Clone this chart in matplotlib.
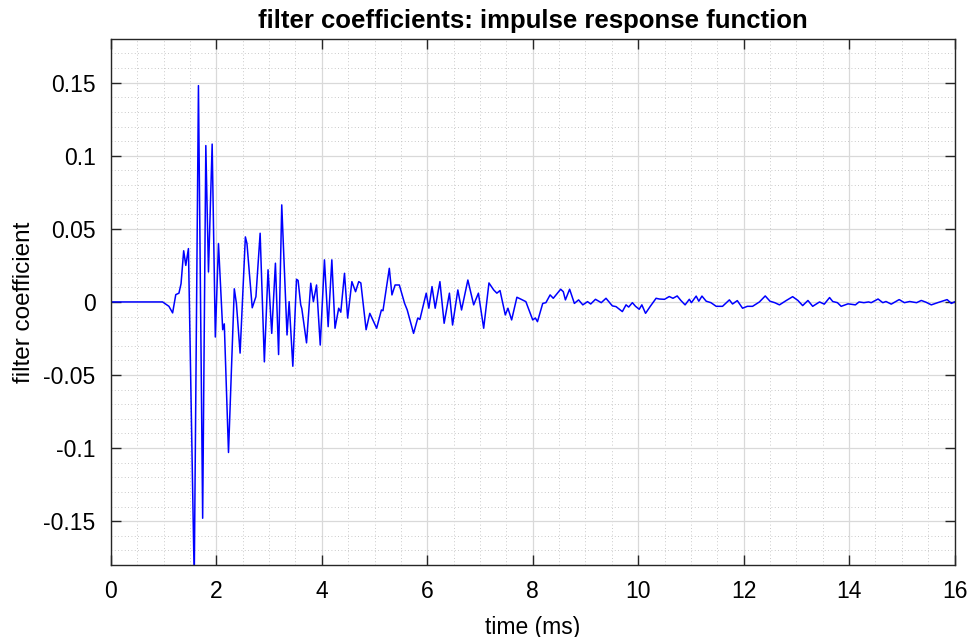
import matplotlib
matplotlib.use("Agg")
import matplotlib.pyplot as plt
from matplotlib.ticker import MultipleLocator, FuncFormatter

# time (ms) and filter coefficient values
time_ms = [0.0, 0.98, 1.10, 1.17, 1.23, 1.29, 1.33, 1.38, 1.42, 1.47, 1.58, 1.66, 1.74, 1.80, 1.85,
           1.92, 1.98, 2.04, 2.12, 2.15, 2.23, 2.34, 2.38, 2.45, 2.55, 2.58, 2.68, 2.75, 2.83, 2.91,
           2.98, 3.05, 3.12, 3.18, 3.24, 3.34, 3.38, 3.45, 3.52, 3.55, 3.60, 3.62, 3.71, 3.79, 3.84,
           3.90, 3.97, 4.05, 4.12, 4.19, 4.25, 4.32, 4.36, 4.43, 4.49, 4.57, 4.64, 4.70, 4.74, 4.84,
           4.91, 5.04, 5.13, 5.16, 5.28, 5.33, 5.39, 5.47, 5.57, 5.62, 5.74, 5.82, 5.86, 5.98, 6.03,
           6.09, 6.15, 6.24, 6.32, 6.42, 6.48, 6.58, 6.65, 6.77, 6.88, 6.97, 7.07, 7.17, 7.26, 7.32,
           7.38, 7.48, 7.53, 7.60, 7.70, 7.77, 7.87, 8.00, 8.05, 8.09, 8.19, 8.25, 8.33, 8.39, 8.53,
           8.58, 8.62, 8.70, 8.79, 8.87, 8.95, 9.04, 9.10, 9.19, 9.30, 9.39, 9.51, 9.58, 9.70, 9.77,
           9.82, 9.89, 9.95, 10.02, 10.07, 10.14, 10.23, 10.34, 10.40, 10.50, 10.59, 10.66, 10.74, 10.81, 10.89,
           10.97, 11.01, 11.10, 11.15, 11.21, 11.29, 11.38, 11.48, 11.60, 11.73, 11.79, 11.88, 11.98, 12.07, 12.17,
           12.30, 12.41, 12.50, 12.59, 12.68, 12.81, 12.93, 13.03, 13.12, 13.22, 13.31, 13.44, 13.53, 13.63, 13.69,
           13.78, 13.85, 13.98, 14.12, 14.19, 14.28, 14.37, 14.42, 14.55, 14.64, 14.70, 14.80, 14.95, 15.05, 15.15,
           15.28, 15.37, 15.46, 15.56, 15.68, 15.86, 15.94, 16.0]

coeff = [0.0, 0.0, -0.003, -0.0075, 0.005, 0.006, 0.0125, 0.035, 0.025, 0.0365, -0.19, 0.148, -0.148, 0.107, 0.0205,
         0.108, -0.024, 0.040, -0.019, -0.015, -0.103, 0.009, -0.001, -0.035, 0.0445, 0.040, -0.004, 0.0036, 0.047, -0.041,
         0.022, -0.0215, 0.0265, -0.036, 0.0664, -0.0226, 0.0002, -0.044, 0.0155, 0.0147, -0.002, -0.0045, -0.028, 0.0128, 0.0002,
         0.0116, -0.0295, 0.0288, -0.0169, 0.0288, -0.018, -0.0043, -0.007, 0.0196, -0.011, 0.0139, 0.007, 0.0139, 0.013, -0.019,
         -0.0078, -0.018, -0.0055, -0.006, 0.023, 0.0048, 0.0116, 0.0116, -0.001, -0.0055, -0.0215, -0.011, -0.012, 0.006, -0.0043,
         0.0105, -0.0043, 0.0139, -0.0146, 0.006, -0.0158, 0.0082, -0.0055, 0.015, -0.002, 0.006, -0.018, 0.013, 0.0082, 0.006,
         0.0078, -0.0089, -0.0043, -0.0123, 0.0032, 0.002, 0.0002, -0.0123, -0.011, -0.0135, -0.001, -0.0005, 0.0048, 0.0025, 0.0087,
         0.007, 0.0014, 0.0087, -0.001, 0.0014, -0.002, 0.0002, -0.0014, 0.0018, -0.0005, 0.0025, -0.0027, -0.0032, -0.0066, -0.002,
         -0.0035, -0.0005, -0.003, -0.005, -0.002, -0.0078, -0.003, 0.0025, 0.002, 0.0018, 0.0037, 0.0025, 0.0041, 0.001, -0.002,
         0.0018, -0.0005, 0.004, 0.0005, 0.004, 0.0005, -0.0005, -0.003, -0.003, 0.0014, -0.0014, 0.0009, -0.0043, -0.003, -0.003,
         0.0, 0.0041, 0.0005, -0.0005, -0.002, 0.001, 0.0036, 0.001, -0.0025, 0.001, -0.003, 0.0, -0.0015, 0.003, 0.0003,
         -0.0005, -0.003, -0.0013, -0.002, 0.0, -0.0005, 0.0, -0.0005, 0.002, -0.0005, 0.0003, -0.0015, 0.0016, -0.0005, 0.0003,
         -0.0005, 0.001, -0.0002, -0.002, -0.0005, 0.0016, -0.001, 0.0]

x_ticks = [0, 2, 4, 6, 8, 10, 12, 14, 16]
y_ticks = [-0.15, -0.1, -0.05, 0, 0.05, 0.1, 0.15]

plt.rcParams['font.family'] = ['Liberation Sans', 'DejaVu Sans']

fig = plt.figure(figsize=(9.73, 6.37), dpi=100)
ax = fig.add_axes([0.114, 0.113, 0.867, 0.826])

ax.plot(time_ms, coeff, color=(0, 0, 1), lw=1.1)

ax.set_xlim(0, 16)
ax.set_ylim(-0.18, 0.18)
ax.set_xticks(x_ticks)
ax.set_yticks(y_ticks)
ax.xaxis.set_minor_locator(MultipleLocator(0.5))
ax.yaxis.set_minor_locator(MultipleLocator(0.01))
ax.yaxis.set_major_formatter(FuncFormatter(lambda v, p: ('%g' % round(v, 4)).replace('\u2212', '-')))
ax.xaxis.set_major_formatter(FuncFormatter(lambda v, p: '%g' % v))

ax.grid(True, which='major', color=(0.85, 0.85, 0.85), lw=0.9, ls='-')
ax.grid(True, which='minor', color=(0.72, 0.72, 0.72), lw=0.6, ls=(0, (1, 3)))
ax.set_axisbelow(True)

ax.tick_params(which='major', direction='in', length=7, width=1, top=True, right=True,
               labelsize=16.5, colors=(0.15, 0.15, 0.15), pad=11)
ax.tick_params(which='minor', length=0)
for tl in ax.get_xticklabels() + ax.get_yticklabels():
    tl.set_color('black')
for s in ax.spines.values():
    s.set_color((0.15, 0.15, 0.15))
    s.set_linewidth(1.0)

ax.set_title('filter coefficients: impulse response function', fontsize=18.5, fontweight='bold', pad=8)
ax.set_xlabel('time (ms)', fontsize=16.5, labelpad=9)
ax.set_ylabel('filter coefficient', fontsize=17.5, labelpad=6)

fig.savefig('out.png', dpi=100)
